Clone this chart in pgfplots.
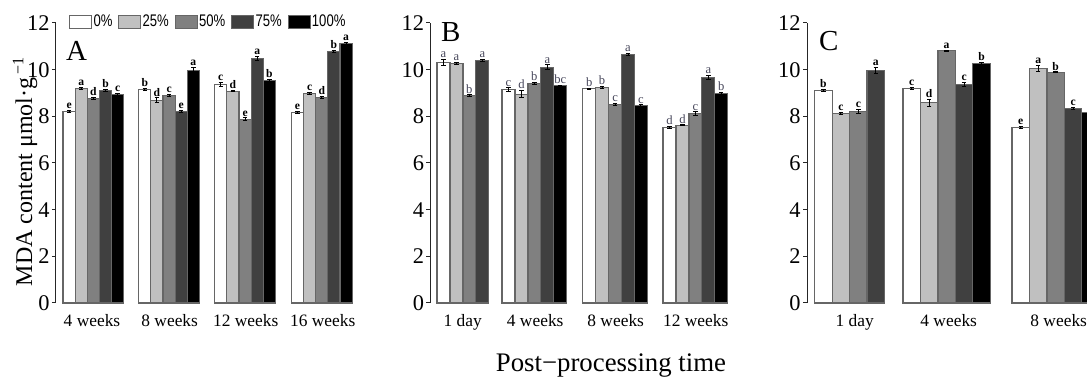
\documentclass[border=0pt]{standalone}
\usepackage{pgfplots}
\pgfplotsset{compat=1.18}
\usepackage{pgfplotstable}
\usepackage{fontspec}
\setmainfont{Liberation Serif}
\setsansfont{Liberation Sans}
\usepackage{graphicx}

\definecolor{c0}{HTML}{FFFFFF}
\definecolor{c1}{HTML}{C0C0C0}
\definecolor{c2}{HTML}{808080}
\definecolor{c3}{HTML}{404040}
\definecolor{c4}{HTML}{000000}
\definecolor{lettB}{RGB}{70,70,90}

% s = left edge of the group (px), then value, error, letter per series
\pgfplotstableread{
s y0 e0 l0 y1 e1 l1 y2 e2 l2 y3 e3 l3 y4 e4 l4
64.3 8.21 0.04 e 9.18 0.05 a 8.78 0.04 d 9.11 0.05 b 8.94 0.04 c
140.0 9.15 0.04 b 8.69 0.10 d 8.89 0.05 c 8.22 0.05 e 9.97 0.12 a
216.0 9.37 0.08 c 9.08 0.02 d 7.88 0.05 e 10.48 0.08 a 9.54 0.04 b
292.7 8.18 0.04 e 8.98 0.05 c 8.81 0.06 d 10.78 0.04 b 11.13 0.04 a
}\tA
\pgfplotstableread{
s y0 e0 l0 y1 e1 l1 y2 e2 l2 y3 e3 l3 y4 e4 l4
438.3 10.31 0.12 a 10.27 0.05 a 8.89 0.03 b 10.40 0.05 a nan 0 x
503.3 9.15 0.07 c 8.95 0.15 d 9.42 0.04 b 10.10 0.10 a 9.31 0.03 bc
584.0 9.18 0.03 b 9.24 0.05 b 8.52 0.04 c 10.64 0.05 a 8.45 0.04 c
664.3 7.53 0.05 d 7.62 0.02 d 8.12 0.07 c 9.67 0.10 a 8.98 0.04 b
}\tB
\pgfplotstableread{
s y0 e0 l0 y1 e1 l1 y2 e2 l2 y3 e3 l3 y4 e4 l4
816.0 9.12 0.05 b 8.13 0.04 c 8.22 0.08 c 9.97 0.12 a nan 0 x
904.3 9.19 0.04 c 8.59 0.15 d 10.81 0.03 a 9.37 0.10 c 10.27 0.03 b
1013.3 7.53 0.04 e 10.05 0.12 a 9.88 0.02 b 8.35 0.04 c 8.16 0.04 {}
}\tC

\newcommand\series[3]{%
  \addplot[fill=c#2, draw=black!60, line width=0.6pt, bar shift=0pt, bar width=#3,
    error bars/.cd, y dir=both, y explicit,
    error bar style={line width=0.5pt,black},
    error mark options={rotate=90, mark size=1.1pt, line width=0.5pt, black}]
    table[x expr=\thisrow{s}+(#2+0.5)*#3, y=y#2, y error=e#2]{#1};
}
\newcommand\letters[4]{%
  \addplot[draw=none, fill=none, forget plot, bar shift=0pt, bar width=#3, nodes near coords,
    point meta=explicit symbolic,
    nodes near coords style={anchor=south, inner sep=0.6pt, #4}]
    table[x expr=\thisrow{s}+(#2+0.5)*#3, y expr=\thisrow{y#2}+\thisrow{e#2}, meta=l#2]{#1};
}

\pgfplotsset{panel/.style={
  scale only axis, height=140pt, ymin=0, ymax=12, ytick={0,2,...,12},
  axis y line*=left, axis x line*=bottom,
  x axis line style={draw=none},
  y axis line style={-, line width=0.5pt, black!85},
  xtick style={draw=none},
  ytick style={line width=0.5pt, black!85},
  tick align=outside, major tick length=2pt,
  ybar, bar shift=0pt, clip=false,
  /pgf/number format/assume math mode=true,
  yticklabel style={font=\fontsize{11.2}{12}\selectfont, inner sep=1pt},
  xticklabel style={font=\fontsize{8.7}{10}\selectfont, anchor=base, yshift=-10pt},
  anchor=south west,
}}

\begin{document}
\begin{tikzpicture}
% ---------- A ----------
\begin{axis}[panel, at={(28.0pt,41pt)}, width=151.35pt, xmin=57.3, xmax=360,
  xtick={93.3,171,247,324}, xticklabels={4 weeks,8 weeks,12 weeks,16 weeks},
  legend columns=5,
  legend image code/.code={\draw[#1] (0pt,-3.25pt) rectangle (11pt,3.25pt);},
  legend style={draw=none, fill=none, inner sep=0pt,
    at={(axis description cs:0.042,1.035)}, anchor=north west,
    font=\sffamily\fontsize{8.4}{9}\selectfont,
    nodes={inner sep=0.6pt},
    /tikz/every even column/.append style={column sep=2.3pt}},
  ]
  \series{\tA}{0}{12.15}
  \series{\tA}{1}{12.15}
  \series{\tA}{2}{12.15}
  \series{\tA}{3}{12.15}
  \series{\tA}{4}{12.15}
  \legend{\scalebox{0.78}[1]{0\%},\scalebox{0.78}[1]{25\%},\scalebox{0.78}[1]{50\%},\scalebox{0.78}[1]{75\%},\scalebox{0.78}[1]{100\%}}
  \letters{\tA}{0}{12.15}{font=\fontsize{5.8}{6}\selectfont\bfseries}
  \letters{\tA}{1}{12.15}{font=\fontsize{5.8}{6}\selectfont\bfseries}
  \letters{\tA}{2}{12.15}{font=\fontsize{5.8}{6}\selectfont\bfseries}
  \letters{\tA}{3}{12.15}{font=\fontsize{5.8}{6}\selectfont\bfseries}
  \letters{\tA}{4}{12.15}{font=\fontsize{5.8}{6}\selectfont\bfseries}
  \node[anchor=base west, inner sep=0pt, font=\fontsize{14.5}{15}\selectfont] at (axis cs:67,10.41) {A};
\end{axis}
% ---------- B ----------
\begin{axis}[panel, at={(215.2pt,41pt)}, width=151.65pt, xmin=431.7, xmax=735,
  xtick={464,536.5,617,697}, xticklabels={1 day,4 weeks,8 weeks,12 weeks}]
  \series{\tB}{0}{12.95}
  \series{\tB}{1}{12.95}
  \series{\tB}{2}{12.95}
  \series{\tB}{3}{12.95}
  \series{\tB}{4}{12.95}
  \letters{\tB}{0}{12.95}{font=\fontsize{6.3}{7}\selectfont, text=lettB}
  \letters{\tB}{1}{12.95}{font=\fontsize{6.3}{7}\selectfont, text=lettB}
  \letters{\tB}{2}{12.95}{font=\fontsize{6.3}{7}\selectfont, text=lettB}
  \letters{\tB}{3}{12.95}{font=\fontsize{6.3}{7}\selectfont, text=lettB}
  \letters{\tB}{4}{12.95}{font=\fontsize{6.3}{7}\selectfont, text=lettB}
  \node[anchor=base west, inner sep=0pt, font=\fontsize{14.5}{15}\selectfont] at (axis cs:442,11.2) {B};
\end{axis}
% ---------- C ----------
\begin{axis}[panel, at={(403.5pt,41pt)}, width=150.85pt, xmin=808.3, xmax=1110,
  xtick={856,950,1060}, xticklabels={1 day,4 weeks,8 weeks}]
  \series{\tC}{0}{17.45}
  \series{\tC}{1}{17.45}
  \series{\tC}{2}{17.45}
  \series{\tC}{3}{17.45}
  \series{\tC}{4}{17.45}
  \letters{\tC}{0}{17.45}{font=\fontsize{5.8}{6}\selectfont\bfseries}
  \letters{\tC}{1}{17.45}{font=\fontsize{5.8}{6}\selectfont\bfseries}
  \letters{\tC}{2}{17.45}{font=\fontsize{5.8}{6}\selectfont\bfseries}
  \letters{\tC}{3}{17.45}{font=\fontsize{5.8}{6}\selectfont\bfseries}
  \letters{\tC}{4}{17.45}{font=\fontsize{5.8}{6}\selectfont\bfseries}
  \node[anchor=base west, inner sep=0pt, font=\fontsize{14.5}{15}\selectfont] at (axis cs:820,10.84) {C};
\end{axis}
% ---------- shared labels ----------
\node[rotate=90, anchor=base, inner sep=0pt, font=\fontsize{12}{14}\selectfont] at (16pt,106.75pt) {MDA content μmol·g\textsuperscript{\,−1}};
\node[anchor=base, inner sep=0pt, font=\fontsize{13.4}{15}\selectfont] at (305.5pt,6.5pt) {Post−processing time};
\pgfresetboundingbox
\path[use as bounding box] (0pt,0pt) rectangle (543.5pt,192.5pt);
\end{tikzpicture}
\end{document}
